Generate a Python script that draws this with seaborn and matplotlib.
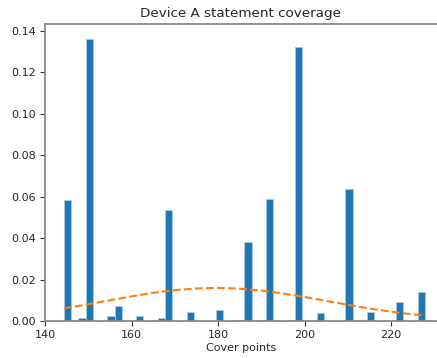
import numpy as np
import pandas as pd
import matplotlib
matplotlib.use("Agg")
import matplotlib.pyplot as plt
import seaborn as sns

# Histogram (density) values
bin_centers = [145.23, 148.57, 150.24, 155.25, 156.92, 161.92, 166.92, 168.59,
               173.60, 180.27, 185.27, 186.94, 190.28, 191.95, 196.95, 198.62,
               203.63, 210.30, 215.30, 221.98, 226.98]
densities = [0.0584, 0.0013, 0.1360, 0.0024, 0.0072, 0.0024, 0.0014, 0.0536,
             0.0045, 0.0052, 0.0005, 0.0380, 0.0003, 0.0587, 0.0007, 0.1325,
             0.0037, 0.0637, 0.0045, 0.0093, 0.0142]
bin_low, bin_high, n_bins = 144.4, 227.8, 50

# Fitted normal curve
curve_x = [144.4, 150, 155, 160, 165, 170, 175, 180, 185, 190, 195, 200,
           205, 210, 215, 220, 225, 227.8]
curve_y = [0.0061, 0.0081, 0.0100, 0.0119, 0.0136, 0.0149, 0.0157, 0.0160,
           0.0156, 0.0147, 0.0133, 0.0116, 0.0097, 0.0078, 0.0060, 0.0045,
           0.0032, 0.0026]

title = "Device A statement coverage"
xlabel = "Cover points"

sns.set_style("ticks")
plt.rcParams['font.family'] = ['DejaVu Sans']

fig = plt.figure(figsize=(4.37, 3.58), dpi=100)
ax = fig.add_axes([45/437, 1-321/358, 1-45/437, (321-24)/358])

df = pd.DataFrame({"x": bin_centers, "w": densities})
sns.histplot(data=df, x="x", weights="w", bins=n_bins,
             binrange=(bin_low, bin_high), stat="count",
             color="#1f77b4", alpha=1, edgecolor="#a9cbe4", linewidth=0.6, ax=ax)
sns.lineplot(x=curve_x, y=curve_y, color="#ff7f0e", linestyle="--",
             linewidth=1.5, ax=ax)

ax.set_xlim(140, 230.6)
ax.set_ylim(0, 0.1434)
ax.set_xticks([140, 160, 180, 200, 220])
ax.set_yticks(np.arange(0, 0.141, 0.02))
ax.yaxis.set_major_formatter(matplotlib.ticker.FormatStrFormatter('%.2f'))
ax.set_title(title, fontsize=9.7, pad=5)
ax.set_xlabel(xlabel, fontsize=8, labelpad=2)
ax.set_ylabel("")
ax.tick_params(labelsize=8, length=3.5, width=0.8, color="#333333", pad=3)
for s in ["left", "bottom", "top"]:
    ax.spines[s].set_color("#888888")
    ax.spines[s].set_linewidth(1.3)
ax.spines["right"].set_visible(False)

fig.savefig("out.png", dpi=100)
